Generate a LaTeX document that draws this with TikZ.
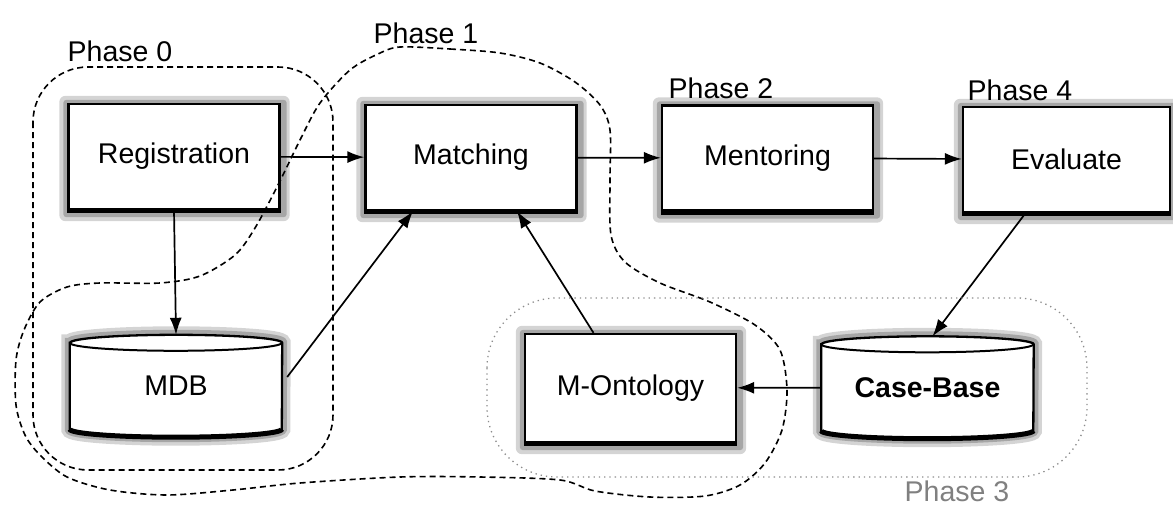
\documentclass[tikz,border=0pt]{standalone}
\usepackage{fontspec}
\setmainfont{Liberation Sans}
\usetikzlibrary{arrows.meta,backgrounds}
\newcommand\cylpath[1]{([yshift=-8pt]#1.north west) -- ([yshift=8pt]#1.south west) arc[start angle=180,end angle=360,x radius=106pt,y radius=8pt] -- ([yshift=-8pt]#1.north east) arc[start angle=0,end angle=180,x radius=106pt,y radius=8pt] -- cycle}
\begin{document}
\begin{tikzpicture}[x=1pt,y=-1pt,
  txt/.style={font=\fontsize{28.5}{31}\selectfont},
  box/.style={txt, draw, line width=2.3pt, fill=white, inner sep=0pt,
    minimum width=211pt, minimum height=105pt},
  cylnode/.style={txt, inner sep=0pt, minimum width=212pt, minimum height=102pt},
  haloout/.style={fill=black!17, rounded corners=6pt},
  haloin/.style={fill=black!35, rounded corners=3pt},
  arr/.style={line width=1.7pt, -{Latex[length=17pt,width=12pt]}},
  zone/.style={line width=1.6pt, dash pattern=on 6pt off 4pt},
  zonethree/.style={line width=1.3pt, black!45, dash pattern=on 1.3pt off 4pt},
  phlabel/.style={txt, inner sep=0pt}]
\useasboundingbox (0,0) rectangle (1173,506);

% boxes
\node[box] (reg) at (174,156.5) {Registration};
\node[box] (match) at (471,157.5) {Matching};
\node[box] (ment) at (767.5,158) {Mentoring};
\node[box, minimum width=207pt] (eval) at (1066.5,159.5) {Evaluate};
\node[box, minimum height=108pt] (onto) at (630.5,388) {M-Ontology};
\foreach \n in {reg,match,ment,eval,onto}
  \draw[line width=4.5pt] ([yshift=-0.8pt]\n.south west) -- ([yshift=-0.8pt]\n.south east);

% cylinders
\node[cylnode] (mdb) at (176,386) {MDB};
\node[cylnode] (case) at (927.5,387.5) {\textbf{Case-Base}};
\begin{pgfonlayer}{background}
\foreach \n in {reg,match,ment,eval,onto}{
  \fill[haloout] ([shift={(-8pt,7pt)}]\n.north west) rectangle ([shift={(9pt,-11pt)}]\n.south east);
  \fill[haloin] ([shift={(-4pt,3pt)}]\n.north west) rectangle ([shift={(6pt,-7pt)}]\n.south east);
}
\foreach \n in {mdb,case}{
  \draw[black!17, fill=black!17, line width=17pt] \cylpath{\n};
  \draw[black!35, fill=black!35, line width=10pt] \cylpath{\n};
  \draw[line width=2.3pt, fill=white] \cylpath{\n};
  \draw[line width=2pt] ([yshift=-8pt]\n.north west) arc[start angle=180,end angle=360,x radius=106pt,y radius=8pt];
  \draw[line width=5pt] ([yshift=8pt]\n.south west) arc[start angle=180,end angle=360,x radius=106pt,y radius=8pt];
}
\end{pgfonlayer}

% connectors
\draw[arr] (reg) -- (match);
\draw[arr] (match) -- (ment);
\draw[arr] (ment) -- (eval);
\draw[arr] (reg.south) -- (mdb.north);
\draw[arr] ([shift={(5pt,9pt)}]mdb.east) -- ([xshift=-58pt]match.south);
\draw[arr] ([xshift=-37pt]onto.north) -- ([xshift=46pt]match.south);
\draw[arr] ([xshift=-41pt]eval.south) -- ([xshift=5pt]case.north);
\draw[arr] (case) -- (onto);

% phase regions
\draw[zone, rounded corners=55pt] (33,67) rectangle (333,470);
\draw[zone] plot[smooth cycle, tension=0.5] coordinates {
 (400,47) (450,49) (500,53) (540,63) (575,82) (600,105) (610,130) (610,180)
 (611,235) (625,262) (660,283) (710,302) (755,325) (780,350) (787,390)
 (782,430) (765,463) (740,485) (705,496) (650,497) (595,491) (560,480)
 (480,477) (400,477) (300,483) (233,490) (167,495) (110,490) (67,477)
 (40,455) (25,435) (16,405) (16,360) (24,330) (40,302) (67,287) (100,283)
 (160,283) (200,276) (235,255) (255,228) (278,185) (300,140) (320,103)
 (350,70) (378,54)};
\draw[zonethree, rounded corners=70pt] (487,298) rectangle (1087,477);

% phase labels
\node[phlabel] (p0) at (120,51) {Phase 0};
\node[phlabel] (p1) at (426,33) {Phase 1};
\node[phlabel] (p2) at (721,88) {Phase 2};
\node[phlabel] (p4) at (1020,90) {Phase 4};
\node[phlabel, text=black!50] (p3) at (957,491) {Phase 3};
\end{tikzpicture}
\end{document}
